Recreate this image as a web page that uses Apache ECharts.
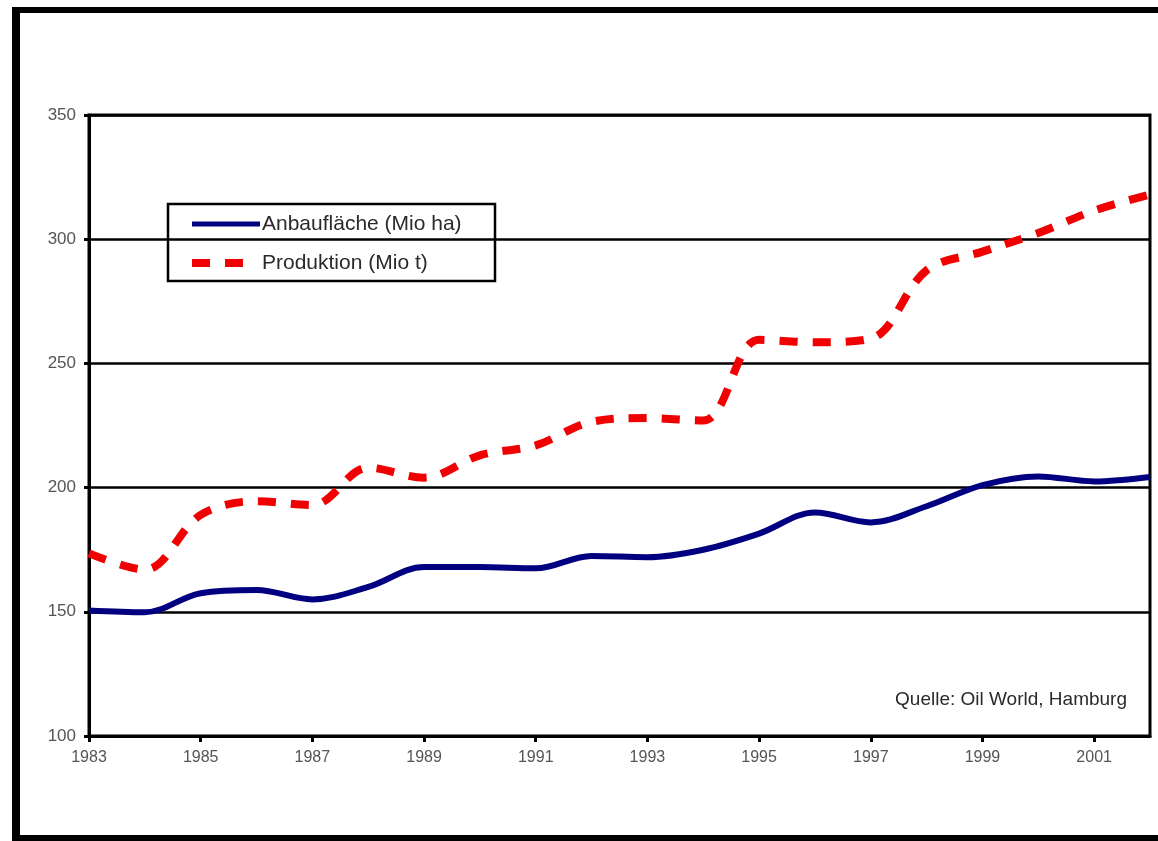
<!DOCTYPE html>
<html>
<head>
<meta charset="utf-8">
<script src="https://cdn.jsdelivr.net/npm/echarts@6/dist/echarts.min.js"></script>
<style>
  html, body { margin: 0; padding: 0; background: #ffffff; }
  #chart { width: 1158px; height: 841px; }
</style>
</head>
<body>
<div id="chart"></div>
<script>
// Jahre (Kategorien der x-Achse)
var years = ['1983','1984','1985','1986','1987','1988','1989','1990','1991','1992',
             '1993','1994','1995','1996','1997','1998','1999','2000','2001','2002'];
// Anbaufläche in Mio ha
var anbauflaeche = [150.5, 149.8, 157.5, 158.8, 155.0, 160.0, 168.0, 168.0, 167.5, 172.5,
                    172.0, 175.0, 181.5, 190.0, 186.0, 192.5, 201.0, 204.5, 202.5, 204.3];
// Produktion in Mio t
var produktion = [173.5, 167.0, 189.0, 194.5, 193.0, 208.0, 204.0, 213.0, 217.0, 226.5,
                  228.0, 227.0, 259.5, 258.5, 260.0, 287.5, 295.0, 302.5, 311.5, 318.0];
// Beschriftungen der y-Achse
var yTicks = [100, 150, 200, 250, 300, 350];

var seriesNames = ['Anbaufläche (Mio ha)', 'Produktion (Mio t)'];
var sourceText = 'Quelle: Oil World, Hamburg';

var FONT = 'Liberation Sans, Arial, sans-serif';
var BLUE = '#000080';
var RED = '#f00000';

var chart = echarts.init(document.getElementById('chart'), null, { renderer: 'canvas' });

chart.setOption({
  backgroundColor: '#ffffff',
  animation: false,
  grid: {
    left: 89, right: 8, top: 115, bottom: 105,
    show: true, borderColor: '#000000', borderWidth: 3, backgroundColor: 'transparent'
  },
  xAxis: {
    type: 'category',
    data: years,
    boundaryGap: false,
    axisLine: { lineStyle: { color: '#000000', width: 3 } },
    axisTick: { show: true, interval: 1, length: 6, lineStyle: { color: '#000000', width: 3 } },
    axisLabel: { interval: 1, margin: 14, fontFamily: FONT, fontSize: 16, color: '#555555' },
    splitLine: { show: false }
  },
  yAxis: {
    type: 'value',
    min: yTicks[0], max: yTicks[yTicks.length - 1], interval: 50,
    axisLine: { show: true, lineStyle: { color: '#000000', width: 3 } },
    axisTick: { show: true, length: 5, lineStyle: { color: '#000000', width: 3 } },
    axisLabel: { margin: 13, fontFamily: FONT, fontSize: 17, color: '#555555' },
    splitLine: { show: true, lineStyle: { color: '#000000', width: 2.5 } }
  },
  series: [
    {
      name: seriesNames[0],
      type: 'line',
      data: anbauflaeche,
      smooth: 0.35,
      symbol: 'none',
      lineStyle: { color: BLUE, width: 6 },
      itemStyle: { color: BLUE },
      z: 3
    },
    {
      name: seriesNames[1],
      type: 'line',
      data: produktion,
      smooth: 0.35,
      symbol: 'none',
      lineStyle: { color: RED, width: 8, type: [18, 15], cap: 'butt' },
      itemStyle: { color: RED },
      z: 3
    }
  ],
  graphic: [
    // Rahmen um die gesamte Abbildung
    { type: 'rect', left: 12, top: 7, shape: { width: 8, height: 834 }, style: { fill: '#000000' }, silent: true },
    { type: 'rect', left: 12, top: 7, shape: { width: 1146, height: 6 }, style: { fill: '#000000' }, silent: true },
    { type: 'rect', left: 12, top: 835, shape: { width: 1146, height: 6 }, style: { fill: '#000000' }, silent: true },
    // Legende (absolute Koordinaten)
    {
      type: 'group', z: 20, silent: true,
      children: [
        { type: 'rect', shape: { x: 168, y: 204, width: 327, height: 77 },
          style: { fill: '#ffffff', stroke: '#000000', lineWidth: 2.5 } },
        { type: 'line', shape: { x1: 192, y1: 224, x2: 260, y2: 224 },
          style: { stroke: BLUE, lineWidth: 5 } },
        { type: 'line', shape: { x1: 192, y1: 263, x2: 243, y2: 263 },
          style: { stroke: RED, lineWidth: 8, lineDash: [18, 15] } },
        { type: 'text', x: 262, y: 224,
          style: { text: seriesNames[0], fontFamily: FONT, fontSize: 21, fill: '#2a2a2a', verticalAlign: 'middle' } },
        { type: 'text', x: 262, y: 263,
          style: { text: seriesNames[1], fontFamily: FONT, fontSize: 21, fill: '#2a2a2a', verticalAlign: 'middle' } }
      ]
    },
    // Quellenangabe
    {
      type: 'text', right: 31, top: 690,
      style: { text: sourceText, fontFamily: FONT, fontSize: 19, fill: '#2a2a2a' },
      silent: true
    }
  ]
});
</script>
</body>
</html>
